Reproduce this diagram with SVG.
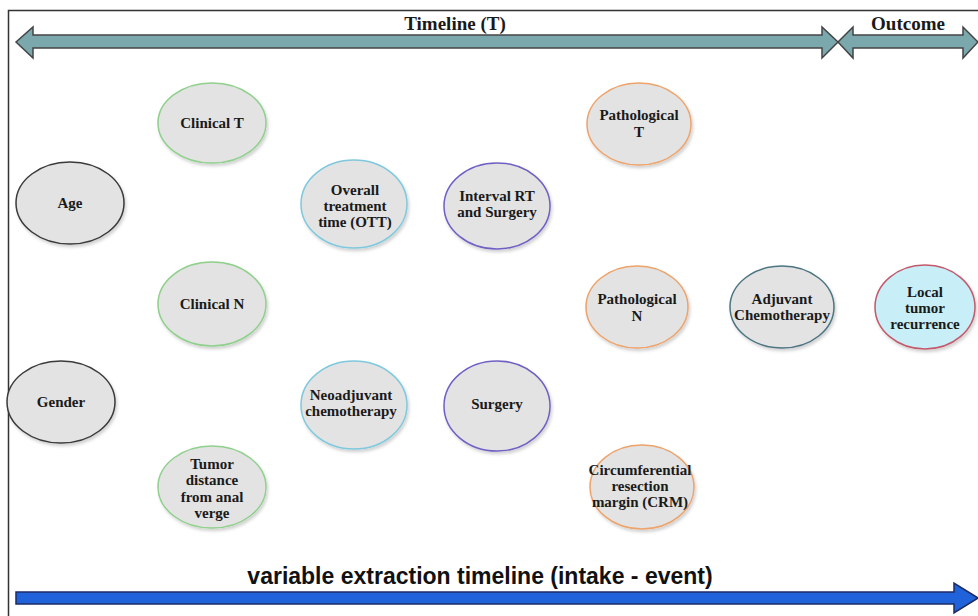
<svg xmlns="http://www.w3.org/2000/svg" width="978" height="616" viewBox="0 0 978 616">
<defs>
<filter id="sh" x="-20%" y="-20%" width="140%" height="150%">
<feDropShadow dx="1.5" dy="2.5" stdDeviation="1.5" flood-color="#000" flood-opacity="0.18"/>
</filter>
<style>
.n{fill:#e3e3e3;stroke-width:1.5;filter:url(#sh)}
.k{stroke:#3a3a3a}
.g{stroke:#8fd08c}
.b{stroke:#7ec9dd}
.p{stroke:#6f60c4}
.o{stroke:#eda36a}
.t{stroke:#4b7480}
.r{stroke:#c25a6c;fill:#c8eef7}
.lbl{font-family:"Liberation Serif","Times New Roman",serif;font-weight:bold;font-size:15px;fill:#1a1a1a;text-anchor:middle}
.hdr{font-family:"Liberation Serif","Times New Roman",serif;font-weight:bold;font-size:19px;fill:#1a1a1a;text-anchor:middle}
.tl{fill:#7aa8ac;stroke:#444;stroke-width:1.5;stroke-linejoin:miter}
</style>
</defs>
<rect width="978" height="616" fill="#fff"/>
<path d="M8.5,616 V10.5 H978" fill="none" stroke="#333" stroke-width="1.5"/>

<g id="connectors">
<polygon class="tl" points="16,42 33,27 33,35 822,35 822,27 838,42 822,58 822,48 33,48 33,58"/>
<polygon class="tl" points="838,42 853,27 853,35 963,35 963,27 978,42 963,58 963,48 853,48 853,58"/>
<polygon points="16,592 954,592 954,583 978,598 954,613 954,604 16,604" fill="#1f62da" stroke="#1c2c66" stroke-width="1.5"/>
</g>

<text class="hdr" x="455" y="30">Timeline (T)</text>
<text class="hdr" x="908" y="30">Outcome</text>
<text x="480" y="584" font-family="'Liberation Sans',Arial,sans-serif" font-size="23" font-weight="bold" fill="#111" text-anchor="middle">variable extraction timeline (intake - event)</text>

<g id="age"><ellipse class="n k" cx="70" cy="203" rx="54" ry="41"/><text class="lbl" x="70" y="208">Age</text></g>
<g id="gender"><ellipse class="n k" cx="61" cy="402" rx="54" ry="41"/><text class="lbl" x="61" y="407">Gender</text></g>

<g id="clinical-t"><ellipse class="n g" cx="212" cy="123" rx="54" ry="40"/><text class="lbl" x="212" y="128">Clinical T</text></g>
<g id="clinical-n"><ellipse class="n g" cx="212" cy="304" rx="54" ry="42"/><text class="lbl" x="212" y="309">Clinical N</text></g>
<g id="tumor-distance"><ellipse class="n g" cx="212" cy="487" rx="54" ry="41"/>
<text class="lbl" x="212" y="469">Tumor</text><text class="lbl" x="212" y="485">distance</text><text class="lbl" x="212" y="502">from anal</text><text class="lbl" x="212" y="518">verge</text></g>

<g id="ott"><ellipse class="n b" cx="354" cy="204" rx="53" ry="44"/>
<text class="lbl" x="355" y="195">Overall</text><text class="lbl" x="355" y="211">treatment</text><text class="lbl" x="355" y="227">time (OTT)</text></g>
<g id="neoadjuvant"><ellipse class="n b" cx="354" cy="405" rx="53" ry="44"/>
<text class="lbl" x="351" y="400">Neoadjuvant</text><text class="lbl" x="351" y="416">chemotherapy</text></g>

<g id="interval"><ellipse class="n p" cx="497" cy="206" rx="53" ry="43"/>
<text class="lbl" x="497" y="201">Interval RT</text><text class="lbl" x="497" y="217">and Surgery</text></g>
<g id="surgery"><ellipse class="n p" cx="497" cy="406" rx="53" ry="45"/><text class="lbl" x="497" y="409">Surgery</text></g>

<g id="path-t"><ellipse class="n o" cx="639" cy="124" rx="52" ry="41"/>
<text class="lbl" x="639" y="120">Pathological</text><text class="lbl" x="639" y="137">T</text></g>
<g id="path-n"><ellipse class="n o" cx="637" cy="307" rx="51" ry="41"/>
<text class="lbl" x="637" y="304">Pathological</text><text class="lbl" x="637" y="321">N</text></g>
<g id="crm"><ellipse class="n o" cx="642" cy="487" rx="52" ry="42"/>
<text class="lbl" x="640" y="475">Circumferential</text><text class="lbl" x="640" y="491">resection</text><text class="lbl" x="640" y="507">margin (CRM)</text></g>

<g id="adjuvant"><ellipse class="n t" cx="782" cy="307" rx="52" ry="41"/>
<text class="lbl" x="782" y="304">Adjuvant</text><text class="lbl" x="782" y="320">Chemotherapy</text></g>
<g id="local-recurrence"><ellipse class="n r" cx="925" cy="307" rx="50" ry="42"/>
<text class="lbl" x="925" y="297">Local</text><text class="lbl" x="925" y="313">tumor</text><text class="lbl" x="925" y="329">recurrence</text></g>
</svg>
